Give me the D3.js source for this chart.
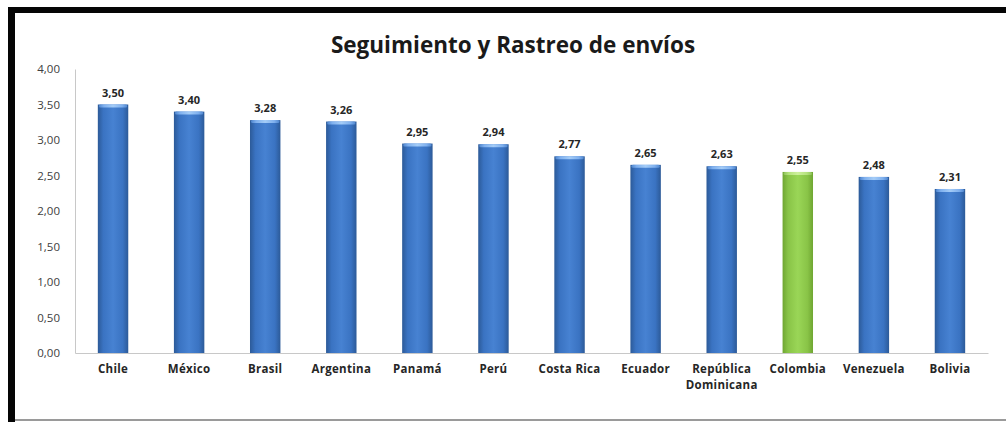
<!DOCTYPE html>
<html>
<head>
<meta charset="utf-8">
<script src="https://cdn.jsdelivr.net/npm/d3@7"></script>
<style>
  html, body { margin: 0; padding: 0; background: #ffffff; }
  svg { display: block; }
</style>
</head>
<body>
<svg id="chart" width="1006" height="422"></svg>
<script>
// Data
const countries = ["Chile", "México", "Brasil", "Argentina", "Panamá", "Perú", "Costa Rica", "Ecuador", "República Dominicana", "Colombia", "Venezuela", "Bolivia"];
const scores = [3.50, 3.40, 3.28, 3.26, 2.95, 2.94, 2.77, 2.65, 2.63, 2.55, 2.48, 2.31];
const highlighted = ["Colombia"];
const yTicks = [0, 0.5, 1, 1.5, 2, 2.5, 3, 3.5, 4];
const chartTitle = "Seguimiento y Rastreo de envíos";

(function () {
const svg = d3.select("#chart");
const W = 1006, H = 422;
const fmt = v => d3.format(".2f")(v).replace(".", ",");

// Frame: heavy top and left rules, light bottom rule
svg.append("rect").attr("x", 0).attr("y", 0).attr("width", W).attr("height", H).attr("fill", "#ffffff");
svg.append("rect").attr("x", 8).attr("y", 7).attr("width", W - 8).attr("height", 6).attr("fill", "#050505");
svg.append("rect").attr("x", 8).attr("y", 7).attr("width", 7).attr("height", H - 7).attr("fill", "#050505");
svg.append("rect").attr("x", 15).attr("y", 419).attr("width", W - 15).attr("height", 2).attr("fill", "#9a9a9a");

// Gradients for the cylinder-style bars
const defs = svg.append("defs");
function barGradient(id, edge, mid, light) {
  const g = defs.append("linearGradient").attr("id", id).attr("x1", "0%").attr("x2", "100%").attr("y1", "0%").attr("y2", "0%");
  g.append("stop").attr("offset", "0%").attr("stop-color", edge);
  g.append("stop").attr("offset", "18%").attr("stop-color", mid);
  g.append("stop").attr("offset", "50%").attr("stop-color", light);
  g.append("stop").attr("offset", "82%").attr("stop-color", mid);
  g.append("stop").attr("offset", "100%").attr("stop-color", edge);
}
barGradient("gBlue", "#2c5a98", "#3a73c2", "#4782d2");
barGradient("gGreen", "#6fa632", "#89c447", "#9ad657");
barGradient("gBlueTop", "#4f86cf", "#7fb0ee", "#a4ccf7");
barGradient("gGreenTop", "#8fc35a", "#b4e27c", "#cdf09c");

const plotLeft = 75, plotRight = 988, plotTop = 69, plotBottom = 353;

const x = d3.scaleBand().domain(countries).range([plotLeft, plotRight]).paddingInner(0.6).paddingOuter(0.3);
const y = d3.scaleLinear().domain([0, 4]).range([plotBottom, plotTop]);

// Title
svg.append("text")
  .attr("x", 513).attr("y", 53)
  .attr("text-anchor", "middle")
  .attr("font-family", "'Open Sans', sans-serif")
  .attr("font-weight", 700)
  .attr("font-size", 22.5)
  .attr("fill", "#1a1a1a")
  .text(chartTitle);

// Y axis
const yAxis = d3.axisLeft(y).tickValues(yTicks).tickSize(0).tickPadding(15).tickFormat(fmt);
const gy = svg.append("g").attr("transform", `translate(${plotLeft},0)`).call(yAxis);
gy.select(".domain").attr("stroke", "#c8c8c8");
gy.selectAll("text")
  .attr("font-family", "'Open Sans', sans-serif")
  .attr("font-size", 11.5)
  .attr("fill", "#404040");

// Bars
const bars = svg.append("g");
bars.selectAll("rect.bar").data(countries).join("rect")
  .attr("class", "bar")
  .attr("x", d => x(d))
  .attr("y", (d, i) => y(scores[i]))
  .attr("width", x.bandwidth())
  .attr("height", (d, i) => y(0) - y(scores[i]))
  .attr("fill", d => highlighted.includes(d) ? "url(#gGreen)" : "url(#gBlue)");
bars.selectAll("rect.cap").data(countries).join("rect")
  .attr("class", "cap")
  .attr("x", d => x(d) + 1)
  .attr("y", (d, i) => y(scores[i]))
  .attr("width", x.bandwidth() - 2)
  .attr("height", 3)
  .attr("rx", 1.5)
  .attr("fill", d => highlighted.includes(d) ? "url(#gGreenTop)" : "url(#gBlueTop)");

// X axis
const xAxis = d3.axisBottom(x).tickSize(0).tickPadding(0).tickFormat("");
const gx = svg.append("g").attr("transform", `translate(0,${plotBottom})`).call(xAxis);
gx.select(".domain").attr("stroke", "#c8c8c8");

// Category labels (wrap the two-word long one)
const catG = svg.append("g");
countries.forEach(c => {
  const lines = c === "República Dominicana" ? ["República", "Dominicana"] : [c];
  const cx = x(c) + x.bandwidth() / 2;
  const t = catG.append("text")
    .attr("x", cx)
    .attr("y", 373)
    .attr("text-anchor", "middle")
    .attr("font-family", "'Open Sans', sans-serif")
    .attr("font-weight", 700)
    .attr("font-size", 11.5)
    .attr("letter-spacing", 0.3)
    .attr("fill", "#262626");
  lines.forEach((l, i) => t.append("tspan").attr("x", cx).attr("dy", i === 0 ? 0 : 16).text(l));
});

// Value labels
svg.append("g").selectAll("text").data(countries).join("text")
  .attr("x", d => x(d) + x.bandwidth() / 2)
  .attr("y", (d, i) => y(scores[i]) - 8)
  .attr("text-anchor", "middle")
  .attr("font-family", "'Open Sans', sans-serif")
  .attr("font-weight", 700)
  .attr("font-size", 11)
  .attr("fill", "#262626")
  .text((d, i) => fmt(scores[i]));
})();
</script>
</body>
</html>
